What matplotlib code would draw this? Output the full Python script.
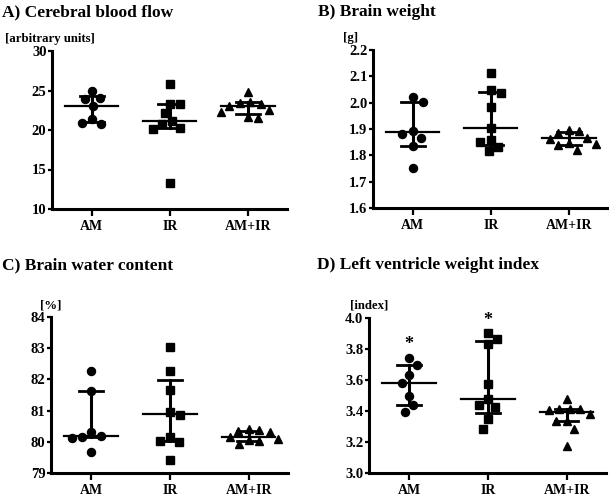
import numpy as np
import matplotlib
matplotlib.use("Agg")
import matplotlib.pyplot as plt

plt.rcParams['font.family'] = ['Liberation Serif', 'DejaVu Serif']
plt.rcParams['font.weight'] = 'bold'

groups = ["AM", "IR", "AM+IR"]
markers = ["o", "s", "^"]
marker_sizes = [5.8, 5.4, 6.2]

# Panel A: cerebral blood flow
cbf_am = [24.9, 24.1, 23.9, 23.1, 21.4, 20.9, 20.8]
cbf_ir = [25.85, 23.3, 23.3, 22.1, 21.15, 20.7, 20.2, 20.1, 13.25]
cbf_amir = [24.8, 23.5, 23.4, 23.3, 23.1, 22.5, 22.3, 21.6, 21.5]
cbf_median = [23.1, 21.1, 23.0]
cbf_q1 = [21.0, 20.2, 22.0]
cbf_q3 = [24.35, 23.3, 23.6]

# Panel B: brain weight
bw_am = [2.02, 2.004, 1.892, 1.88, 1.865, 1.835, 1.75]
bw_ir = [2.114, 2.048, 2.038, 1.985, 1.905, 1.86, 1.85, 1.832, 1.815]
bw_amir = [1.895, 1.892, 1.886, 1.866, 1.862, 1.845, 1.842, 1.838, 1.82]
bw_median = [1.887, 1.905, 1.867]
bw_q1 = [1.835, 1.838, 1.839]
bw_q3 = [2.004, 2.04, 1.887]

# Panel C: brain water content
bwc_am = [82.27, 81.62, 80.33, 80.2, 80.15, 80.12, 79.68]
bwc_ir = [83.05, 82.27, 81.67, 80.95, 80.87, 80.15, 80.02, 80.0, 79.41]
bwc_amir = [80.4, 80.38, 80.35, 80.32, 80.15, 80.1, 80.05, 80.02, 79.93]
bwc_median = [80.2, 80.88, 80.15]
bwc_q1 = [80.15, 80.02, 80.02]
bwc_q3 = [81.62, 81.97, 80.35]

# Panel D: left ventricle weight index
lv_am = [3.742, 3.695, 3.63, 3.58, 3.50, 3.437, 3.394]
lv_ir = [3.905, 3.867, 3.83, 3.572, 3.475, 3.437, 3.426, 3.346, 3.286]
lv_amir = [3.48, 3.415, 3.41, 3.41, 3.405, 3.383, 3.335, 3.335, 3.286, 3.174]
lv_median = [3.58, 3.475, 3.395]
lv_q1 = [3.437, 3.387, 3.335]
lv_q3 = [3.695, 3.85, 3.415]
lv_star_y = [3.83, 3.985]
lv_star_groups = [0, 1]

panels = [
    dict(title="A) Cerebral blood flow", unit="[arbitrary units]",
         data=[cbf_am, cbf_ir, cbf_amir], med=cbf_median, q1=cbf_q1, q3=cbf_q3,
         ylim=(10, 30), ticks=[10, 15, 20, 25, 30], fmt="{:.0f}",
         rect_px=(52, 51, 287, 209), title_px=(2, 12), unit_px=(5, 39)),
    dict(title="B) Brain weight", unit="[g]",
         data=[bw_am, bw_ir, bw_amir], med=bw_median, q1=bw_q1, q3=bw_q3,
         ylim=(1.6, 2.2), ticks=[1.6, 1.7, 1.8, 1.9, 2.0, 2.1, 2.2], fmt="{:.1f}",
         rect_px=(373, 50, 608, 208), title_px=(318, 12), unit_px=(343, 38)),
    dict(title="C) Brain water content", unit="[%]",
         data=[bwc_am, bwc_ir, bwc_amir], med=bwc_median, q1=bwc_q1, q3=bwc_q3,
         ylim=(79, 84), ticks=[79, 80, 81, 82, 83, 84], fmt="{:.0f}",
         rect_px=(51, 317, 288, 473), title_px=(2, 265), unit_px=(40, 305)),
    dict(title="D) Left ventricle weight index", unit="[index]",
         data=[lv_am, lv_ir, lv_amir], med=lv_median, q1=lv_q1, q3=lv_q3,
         ylim=(3.0, 4.0), ticks=[3.0, 3.2, 3.4, 3.6, 3.8, 4.0], fmt="{:.1f}",
         rect_px=(369, 318, 606, 473), title_px=(317, 265), unit_px=(350, 305)),
]

W, H = 609, 496
fig = plt.figure(figsize=(W / 100, H / 100), dpi=100)


def swarm_offsets(vals, px_per_unit, px_per_xunit, dmin=10.5, grid=0.5):
    """Simple beeswarm: place each point at the smallest |x| (px) free of overlap."""
    order = np.argsort(vals)[::-1]
    offs = np.zeros(len(vals))
    placed = []
    side = 1
    for idx in order:
        y = vals[idx] * px_per_unit
        chosen = None
        for k in range(0, 200):
            xs = [0.0] if k == 0 else [side * k * grid, -side * k * grid]
            for x in xs:
                if all(np.hypot(x - px, y - py) >= dmin for px, py in placed):
                    chosen = x
                    break
            if chosen is not None:
                break
        if chosen != 0:
            side = -side
        placed.append((chosen, y))
        offs[idx] = chosen / px_per_xunit
    return offs


for p in panels:
    l, t, r, b = p["rect_px"]
    ax = fig.add_axes([l / W, (H - b) / H, (r - l) / W, (b - t) / H])
    ax.set_xlim(-0.51, 2.5)
    ax.set_ylim(*p["ylim"])
    px_per_unit = (b - t) / (p["ylim"][1] - p["ylim"][0])
    px_per_xunit = (r - l) / 3.01
    for i, vals in enumerate(p["data"]):
        vals = np.asarray(vals, dtype=float)
        offs = swarm_offsets(vals, px_per_unit, px_per_xunit)
        ax.plot(i + offs, vals, linestyle="none", marker=markers[i],
                ms=marker_sizes[i], color="black", zorder=3)
        ax.plot([i, i], [p["q1"][i], p["q3"][i]], color="black", lw=2.2, zorder=4)
        ax.plot([i - 0.15, i + 0.15], [p["q1"][i]] * 2, color="black", lw=2.0, zorder=4)
        ax.plot([i - 0.15, i + 0.15], [p["q3"][i]] * 2, color="black", lw=2.0, zorder=4)
        ax.plot([i - 0.34, i + 0.34], [p["med"][i]] * 2, color="black", lw=1.6, zorder=4)
    ax.set_xticks(range(3))
    ax.set_xticklabels(groups, fontsize=10, fontweight="bold")
    ax.set_yticks(p["ticks"])
    ax.set_yticklabels([p["fmt"].format(v) for v in p["ticks"]], fontsize=10.5,
                       fontweight="bold")
    for s in ["top", "right"]:
        ax.spines[s].set_visible(False)
    for s in ["left", "bottom"]:
        ax.spines[s].set_linewidth(2.2)
    ax.tick_params(axis="y", direction="out", length=3, width=1.6, pad=1)
    ax.tick_params(axis="x", direction="out", length=5, width=1.6, pad=3)
    fig.text(p["title_px"][0] / W, 1 - p["title_px"][1] / H, p["title"],
             fontsize=12.5, fontweight="bold", ha="left", va="center")
    fig.text(p["unit_px"][0] / W, 1 - p["unit_px"][1] / H, p["unit"],
             fontsize=9.2, fontweight="bold", ha="left", va="center")
    if p["unit"] == "[index]":
        for gi, sy in zip(lv_star_groups, lv_star_y):
            ax.text(gi, sy, "*", fontsize=13, fontweight="bold",
                    ha="center", va="center")

fig.savefig("out.png", dpi=100)
